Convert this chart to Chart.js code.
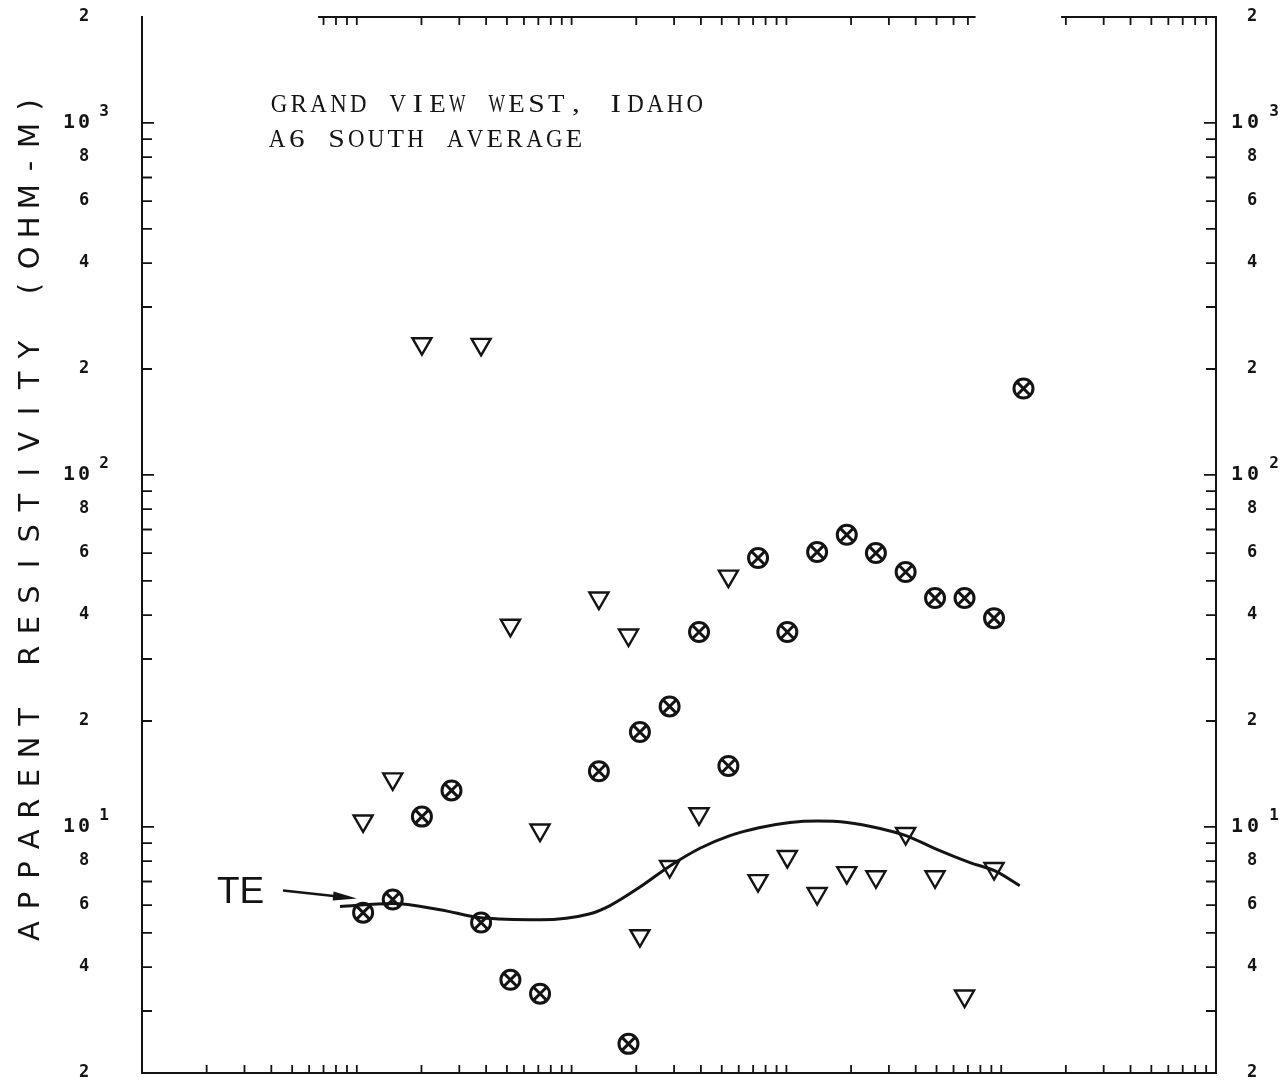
<!DOCTYPE html>
<html>
<head>
<meta charset="utf-8">
<script src="https://cdn.jsdelivr.net/npm/chart.js@4.4.1/dist/chart.umd.min.js"></script>
<style>
  html, body { margin: 0; padding: 0; background: #fff; }
  #wrap { width: 1283px; height: 1088px; }
</style>
</head>
<body>
<div id="wrap"><canvas id="chart" width="1283" height="1088"></canvas></div>
<script>
// Grand View West, Idaho - A6 south average
// x: period on a log axis (no printed labels), y: apparent resistivity (ohm-m)

// triangles (open, pointing down)
const triX = [0.0107, 0.0147, 0.0201, 0.0379, 0.0519, 0.0713, 0.134, 0.184, 0.208, 0.286, 0.392,
              0.537, 0.738, 1.01, 1.39, 1.91, 2.61, 3.59, 4.92, 6.75, 9.26];
const triY = [10.4, 13.7, 236, 235, 37.4, 9.8, 44.7, 35.1, 4.91, 7.72, 10.9,
              51.6, 7.04, 8.24, 6.47, 7.42, 7.22, 9.58, 7.22, 3.31, 7.62];

// circled crosses
const cirX = [0.0107, 0.0147, 0.0201, 0.0276, 0.0379, 0.0519, 0.0713, 0.134, 0.184, 0.208, 0.286, 0.392,
              0.537, 0.738, 1.01, 1.39, 1.91, 2.61, 3.59, 4.92, 6.75, 9.26, 12.7];
const cirY = [5.71, 6.22, 10.7, 12.7, 5.35, 3.68, 3.36, 14.4, 2.42, 18.6, 22.0, 35.8,
              14.9, 58.1, 35.8, 60.4, 67.6, 60.0, 53.0, 44.7, 44.7, 39.2, 176];

// TE model curve
const teX = [0.00835, 0.0146, 0.0244, 0.0379, 0.0713, 0.122, 0.151, 0.208, 0.287, 0.396, 0.546,
             0.745, 1.04, 1.40, 1.92, 2.73, 3.60, 4.92, 7.16, 9.36, 12.2];
const teY = [5.94, 6.06, 5.82, 5.52, 5.45, 5.67, 5.98, 6.75, 7.75, 8.70, 9.45,
             9.95, 10.3, 10.4, 10.3, 9.90, 9.45, 8.68, 7.92, 7.50, 6.81];

// axis ranges and label values
const xMin = 0.001, xMax = 100;
const yMin = 2, yMax = 2000;
const yLabelValues = [2, 4, 6, 8, 10, 20, 40, 60, 80, 100, 200, 400, 600, 800, 1000, 2000];
// pieces of the top border that were actually drawn
const topPieces = [[0.0066, 7.6], [19, 100]];

const title1 = 'GRAND VIEW WEST, IDAHO';
const title2 = 'A6 SOUTH AVERAGE';
const yTitle = 'APPARENT RESISTIVITY (OHM-M)';

const INK = '#141414';

function logTicks(min, max) {
  const out = [];
  for (let d = Math.floor(Math.log10(min)); d <= Math.ceil(Math.log10(max)); d++) {
    for (let m = 1; m <= 9; m++) {
      const v = m * Math.pow(10, d);
      if (v > min * 1.0001 && v < max * 0.9999) out.push(v);
    }
  }
  return out;
}

// typewriter line: serif letters squeezed / widened into fixed cells
function typeLine(ctx, text, x0, y, pitch) {
  [...text].forEach((ch, i) => {
    const w = ctx.measureText(ch).width || 1;
    const sx = Math.min(1.25, 16.5 / w);
    ctx.save();
    ctx.translate(x0 + i * pitch, y);
    ctx.scale(sx, 1);
    ctx.fillText(ch, 0, 0);
    ctx.restore();
  });
}

const framePlugin = {
  id: 'frame',
  afterDraw(chart) {
    const { ctx, chartArea: a, scales } = chart;
    const xs = scales.x, ys = scales.y;
    ctx.save();
    ctx.strokeStyle = INK;
    ctx.fillStyle = INK;
    ctx.lineWidth = 2;
    ctx.lineCap = 'butt';

    // border: left, right, bottom, top pieces
    ctx.beginPath();
    ctx.moveTo(a.left, a.top - 1); ctx.lineTo(a.left, a.bottom);
    ctx.moveTo(a.right, a.top - 1); ctx.lineTo(a.right, a.bottom);
    ctx.moveTo(a.left - 1, a.bottom); ctx.lineTo(a.right + 1, a.bottom);
    topPieces.forEach(p => {
      ctx.moveTo(xs.getPixelForValue(p[0]), a.top);
      ctx.lineTo(xs.getPixelForValue(p[1]), a.top);
    });
    ctx.stroke();

    // x ticks, pointing inward
    ctx.lineWidth = 1.8;
    ctx.beginPath();
    logTicks(xMin, xMax).forEach(v => {
      const px = xs.getPixelForValue(v);
      ctx.moveTo(px, a.bottom); ctx.lineTo(px, a.bottom - 8);
      if (topPieces.some(p => v >= p[0] && v <= p[1])) {
        ctx.moveTo(px, a.top); ctx.lineTo(px, a.top + 8);
      }
    });
    // y ticks on both sides
    logTicks(yMin, yMax).forEach(v => {
      const py = ys.getPixelForValue(v);
      const len = Math.abs(Math.log10(v) % 1) < 1e-6 ? 12 : 10;
      ctx.moveTo(a.left, py); ctx.lineTo(a.left + len, py);
      ctx.moveTo(a.right, py); ctx.lineTo(a.right - len, py);
    });
    ctx.stroke();

    // y tick labels, left and right
    ctx.textBaseline = 'middle';
    ctx.textAlign = 'center';
    yLabelValues.forEach(v => {
      const py = ys.getPixelForValue(v);
      const e = Math.log10(v);
      if (Math.abs(e - Math.round(e)) < 1e-6) {
        ctx.font = 'bold 20px "DejaVu Sans Mono"';
        ctx.fillText('1', 69, py);
        ctx.fillText('0', 84, py);
        ctx.fillText('1', 1237, py);
        ctx.fillText('0', 1253, py);
        ctx.font = 'bold 16px "DejaVu Sans Mono"';
        ctx.fillText(String(Math.round(e)), 104, py - 11);
        ctx.fillText(String(Math.round(e)), 1274, py - 11);
      } else {
        const mant = Math.round(v / Math.pow(10, Math.floor(e)));
        ctx.font = 'bold 17px "DejaVu Sans Mono"';
        ctx.fillText(String(mant), 84, py);
        ctx.fillText(String(mant), 1252, py);
      }
    });

    // chart title
    ctx.textAlign = 'center';
    ctx.textBaseline = 'alphabetic';
    ctx.font = '25px "Liberation Serif"';
    typeLine(ctx, title1, 279, 112, 19.8);
    typeLine(ctx, title2, 277, 147, 19.8);

    // y axis title, rotated, wide letter pitch
    ctx.save();
    ctx.translate(31, 518);
    ctx.rotate(-Math.PI / 2);
    ctx.font = '29px "DejaVu Sans"';
    ctx.textAlign = 'center';
    ctx.textBaseline = 'middle';
    const tp = 30.6;
    const n = yTitle.length;
    [...yTitle].forEach((ch, i) => ctx.fillText(ch, (i - (n - 1) / 2) * tp, 0));
    ctx.restore();

    // TE label with arrow pointing at the start of the model curve
    const sx = xs.getPixelForValue(teX[0]);
    const sy = ys.getPixelForValue(teY[0]);
    const tipX = sx + 17, tipY = sy - 8;
    const tailX = tipX - 74, tailY = tipY - 8;
    ctx.lineWidth = 2.5;
    ctx.beginPath();
    ctx.moveTo(tailX, tailY);
    ctx.lineTo(tipX - 14, tipY - 1.5);
    ctx.stroke();
    const ang = Math.atan2(tipY - tailY, tipX - tailX);
    ctx.beginPath();
    ctx.moveTo(tipX, tipY);
    ctx.lineTo(tipX - 24 * Math.cos(ang) + 4.5 * Math.sin(ang), tipY - 24 * Math.sin(ang) - 4.5 * Math.cos(ang));
    ctx.lineTo(tipX - 24 * Math.cos(ang) - 4.5 * Math.sin(ang), tipY - 24 * Math.sin(ang) + 4.5 * Math.cos(ang));
    ctx.closePath();
    ctx.fill();
    ctx.font = '37px "Liberation Sans"';
    ctx.textAlign = 'left';
    ctx.textBaseline = 'middle';
    ctx.fillText('TE', tailX - 66, tailY + 2);

    ctx.restore();
  }
};

const pts = (xs, ys) => xs.map((x, i) => ({ x: x, y: ys[i] }));

const ctx = document.getElementById('chart').getContext('2d');
new Chart(ctx, {
  type: 'scatter',
  data: {
    datasets: [
      {
        label: 'TE',
        type: 'line',
        data: pts(teX, teY),
        borderColor: INK,
        borderWidth: 3,
        pointRadius: 0,
        cubicInterpolationMode: 'monotone',
        fill: false
      },
      {
        label: 'triangles',
        data: pts(triX, triY),
        pointStyle: 'triangle',
        rotation: 180,
        pointRadius: 11,
        borderColor: INK,
        borderWidth: 2.4,
        backgroundColor: 'rgba(0,0,0,0)'
      },
      {
        label: 'circles',
        data: pts(cirX, cirY),
        pointStyle: 'circle',
        pointRadius: 9.5,
        borderColor: INK,
        borderWidth: 3,
        backgroundColor: 'rgba(0,0,0,0)'
      },
      {
        label: 'crosses',
        data: pts(cirX, cirY),
        pointStyle: 'crossRot',
        pointRadius: 9.5,
        borderColor: INK,
        borderWidth: 3
      }
    ]
  },
  options: {
    responsive: false,
    animation: false,
    devicePixelRatio: 1,
    layout: { padding: { left: 142, right: 67, top: 17, bottom: 15 } },
    scales: {
      x: { type: 'logarithmic', min: xMin, max: xMax, display: false },
      y: { type: 'logarithmic', min: yMin, max: yMax, display: false }
    },
    plugins: {
      legend: { display: false },
      tooltip: { enabled: false }
    }
  },
  plugins: [framePlugin]
});
</script>
</body>
</html>
